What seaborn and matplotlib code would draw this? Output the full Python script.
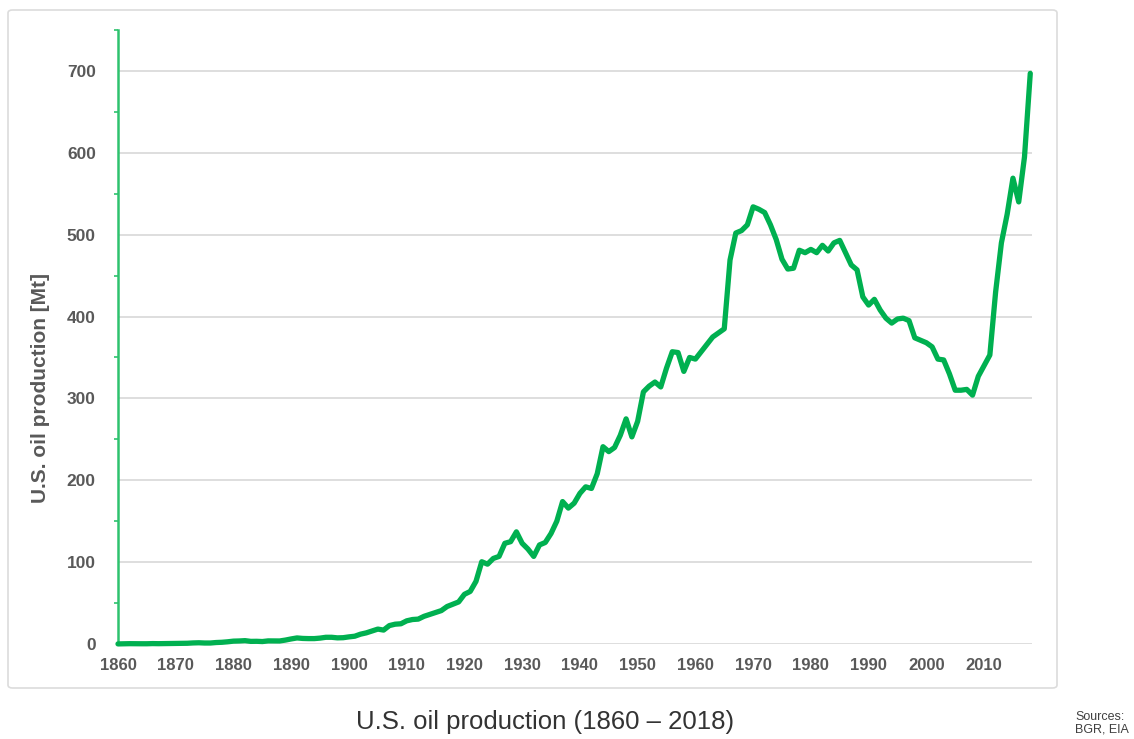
import numpy as np
import pandas as pd
import matplotlib
matplotlib.use("Agg")
import matplotlib.pyplot as plt
from matplotlib.patches import FancyBboxPatch
from matplotlib.ticker import MultipleLocator
import seaborn as sns

# U.S. oil production in Mt, one list per decade
prod_1860s = [0.1, 0.3, 0.4, 0.3, 0.3, 0.3, 0.5, 0.4, 0.5, 0.6]
prod_1870s = [0.7, 0.7, 0.9, 1.3, 1.5, 1.2, 1.2, 1.8, 2.1, 2.7]
prod_1880s = [3.5, 3.7, 4.1, 3.2, 3.3, 3.0, 3.8, 3.8, 3.7, 4.8]
prod_1890s = [6.2, 7.4, 6.8, 6.6, 6.6, 7.2, 8.2, 8.2, 7.5, 7.7]
prod_1900s = [8.7, 9.5, 12.0, 13.6, 15.9, 18.2, 17.0, 22.5, 24.2, 24.7]
prod_1910s = [28.3, 29.9, 30.4, 33.8, 36.1, 38.4, 40.8, 45.8, 48.6, 51.4]
prod_1920s = [60.7, 64.2, 76.5, 100.5, 97.5, 104.5, 107, 123, 125, 137]
prod_1930s = [123, 116, 107, 121, 124, 135, 150, 174, 166, 172]
prod_1940s = [184, 192, 190, 208, 241, 235, 240, 255, 275, 253]
prod_1950s = [272, 308, 315, 320, 314, 337, 357, 356, 333, 350]
prod_1960s = [348, 357, 366, 375, 380, 385, 469, 502, 505, 512]
prod_1970s = [534, 531, 527, 512, 494, 470, 458, 459, 481, 478]
prod_1980s = [482, 478, 487, 480, 490, 493, 478, 463, 457, 424]
prod_1990s = [414, 421, 408, 398, 392, 397, 398, 395, 374, 371]
prod_2000s = [368, 363, 348, 347, 330, 310, 310, 311, 304, 327]
prod_2010s = [340, 353, 430, 490, 525, 569, 540, 595, 697]

years = list(range(1860, 2019))
x_ticks = list(range(1860, 2011, 10))

production = (prod_1860s + prod_1870s + prod_1880s + prod_1890s + prod_1900s
              + prod_1910s + prod_1920s + prod_1930s + prod_1940s + prod_1950s
              + prod_1960s + prod_1970s + prod_1980s + prod_1990s + prod_2000s
              + prod_2010s)
df = pd.DataFrame({"year": years, "production": production})

sns.set_style("white")
plt.rcParams["font.family"] = ["Liberation Sans", "DejaVu Sans"]

green = "#00b050"
grey_txt = "#595959"

fig = plt.figure(figsize=(11.34, 7.39), dpi=100)
fig.patch.set_facecolor("white")

# light rounded panel behind the chart
panel = FancyBboxPatch((8 / 1134, 1 - 688 / 739), 1049 / 1134, 678 / 739,
                       boxstyle="round,pad=0,rounding_size=0.004",
                       transform=fig.transFigure, facecolor="white",
                       edgecolor="#dcdcdc", linewidth=1.2, zorder=-5)
fig.patches.append(panel)

ax = fig.add_axes([118 / 1134, 1 - 644 / 739, 914 / 1134, 614 / 739])
ax.set_zorder(2)
ax.set_facecolor("none")

sns.lineplot(data=df, x="year", y="production", ax=ax, color=green,
             linewidth=3.8, clip_on=False, zorder=3)

ax.set_xlim(1860, 2018.3)
ax.set_ylim(0, 750)
ax.set_xticks(x_ticks)
ax.yaxis.set_major_locator(MultipleLocator(100))
ax.yaxis.set_minor_locator(MultipleLocator(50))
ax.set_yticks([0, 100, 200, 300, 400, 500, 600, 700])

ax.grid(axis="y", which="major", color="#dedede", linewidth=1.4)
ax.set_axisbelow(True)

for side in ["top", "right", "bottom"]:
    ax.spines[side].set_visible(False)
ax.spines["left"].set_color("#2ec26e")
ax.spines["left"].set_linewidth(1.8)

ax.tick_params(axis="y", which="major", length=5, width=1.5, color="#2ec26e",
               labelsize=12.5, labelcolor=grey_txt, pad=11)
ax.tick_params(axis="y", which="minor", length=3, width=1.2, color="#2ec26e",
               left=True)
ax.tick_params(axis="x", length=0, labelsize=12, labelcolor=grey_txt, pad=10)
for lab in ax.get_xticklabels() + ax.get_yticklabels():
    lab.set_fontweight("bold")

ax.set_xlabel("")
ax.set_ylabel("U.S. oil production [Mt]", fontsize=15, fontweight="bold",
              color=grey_txt)
ax.yaxis.set_label_coords(-0.074, 0.417)

fig.text(545 / 1134, 1 - 722 / 739, "U.S. oil production (1860 \u2013 2018)",
         ha="center", va="center", fontsize=18.5, color="#333333")
fig.text(1075 / 1134, 1 - 723 / 739, "Sources:\nBGR, EIA", ha="left",
         va="center", fontsize=9, color="#404040", linespacing=1.1)

fig.savefig("out.png", dpi=100, facecolor="white")
